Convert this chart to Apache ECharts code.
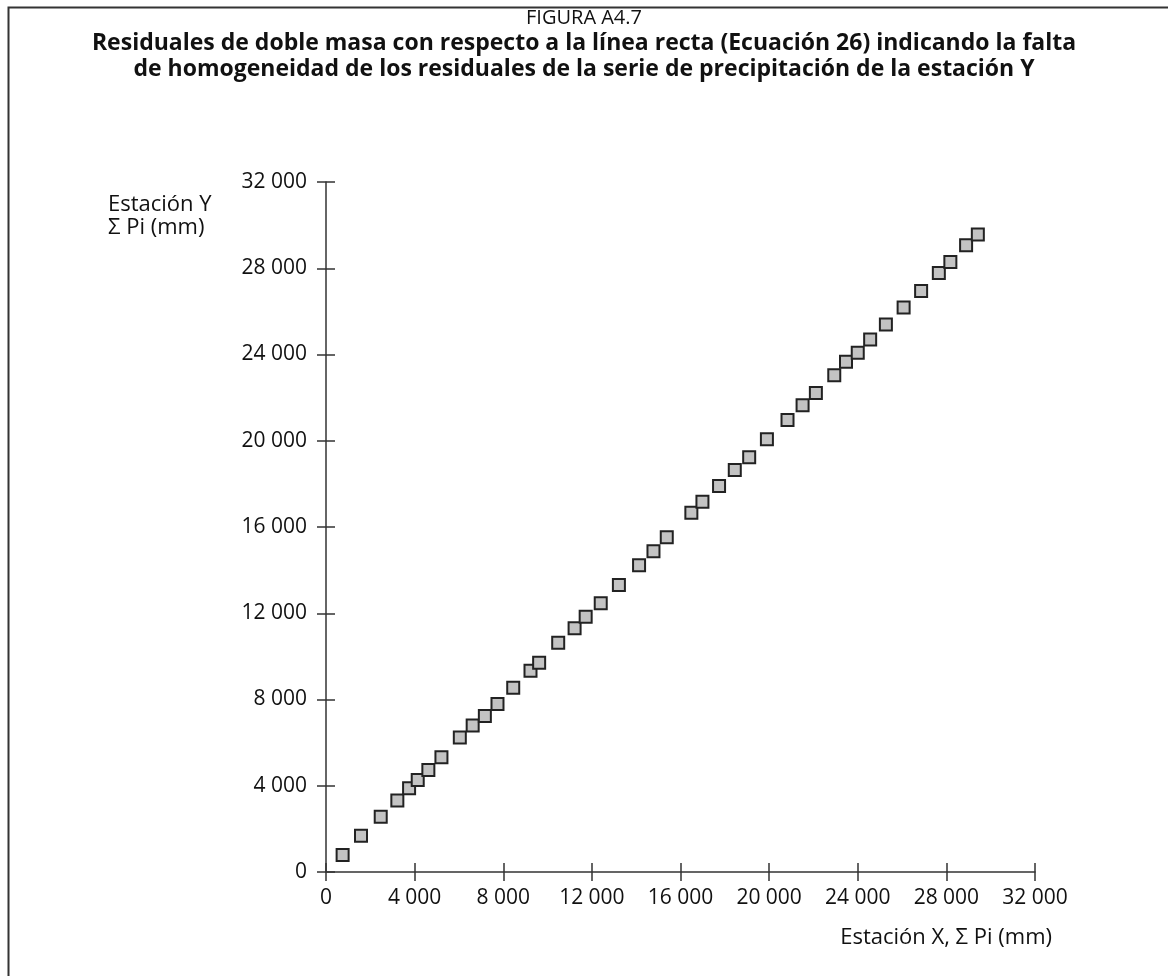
<!DOCTYPE html>
<html>
<head>
<meta charset="utf-8">
<script src="https://cdn.jsdelivr.net/npm/echarts@6/dist/echarts.min.js"></script>
<style>
html,body{margin:0;padding:0;background:#fff;}
#chart{width:1168px;height:976px;}
</style>
</head>
<body>
<div id="chart"></div>
<script>
// Data (mm)
const stationX = [750,1580,2470,3220,3750,4140,4620,5210,6040,6620,7170,7740,8450,9230,9620,10480,11220,11720,12400,13220,14130,14780,15380,16490,16990,17740,18450,19100,19900,20830,21510,22110,22940,23470,24000,24560,25270,26070,26860,27660,28180,28890,29420];
const stationY = [790,1680,2560,3320,3880,4270,4730,5320,6240,6800,7230,7790,8540,9330,9700,10630,11300,11840,12460,13310,14230,14880,15520,16660,17170,17900,18640,19230,20070,20960,21650,22220,23040,23660,24080,24700,25390,26180,26950,27780,28290,29070,29560];
const axisMin = 0, axisMax = 32000, axisStep = 4000;
const figureLabel = 'FIGURA A4.7';
const titleLines = ['Residuales de doble masa con respecto a la línea recta (Ecuación 26) indicando la falta','de homogeneidad de los residuales de la serie de precipitación de la estación Y'];
const xAxisName = 'Estación X, Σ Pi (mm)';
const yAxisName = ['Estación Y','Σ Pi (mm)'];

const FONT = 'Open Sans';
const fmt = v => String(v).replace(/\B(?=(\d{3})+(?!\d))/g, ' ');
const lineCol = '#333';
const textCol = '#111';

function mkAxis(isX, outside){
  return {
    type:'value', min:axisMin, max:axisMax, interval:axisStep,
    position: isX ? 'bottom' : 'left',
    axisLine:{show:outside, onZero:false, lineStyle:{color:lineCol, width:1.5}},
    axisTick:{show:true, inside:!outside, length:9, lineStyle:{color:lineCol, width:1.5}},
    axisLabel:{show:outside, formatter:fmt, color:textCol, fontFamily:FONT, fontSize:21, margin: isX ? 16 : 19},
    splitLine:{show:false}
  };
}

const chart = echarts.init(document.getElementById('chart'), null, {renderer:'canvas'});
chart.setOption({
  backgroundColor:'#fff',
  animation:false,
  grid:{left:326, right:133, top:182, bottom:104, containLabel:false},
  xAxis:[mkAxis(true,true), mkAxis(true,false)],
  yAxis:[mkAxis(false,true), mkAxis(false,false)],
  graphic:[
    {type:'rect', shape:{x:8.5, y:7.5, width:1300, height:1300}, style:{fill:null, stroke:lineCol, lineWidth:2}, silent:true, z:-1},
    {type:'text', x:584, y:18, style:{text:figureLabel, fontFamily:FONT, fontSize:20, fill:textCol, textAlign:'center', textVerticalAlign:'middle'}},
    {type:'text', x:584, y:43, style:{text:titleLines[0], fontFamily:FONT, fontWeight:'bold', fontSize:23, fill:textCol, textAlign:'center', textVerticalAlign:'middle'}},
    {type:'text', x:584, y:69, style:{text:titleLines[1], fontFamily:FONT, fontWeight:'bold', fontSize:23, fill:textCol, textAlign:'center', textVerticalAlign:'middle'}},
    {type:'text', x:108, y:205, style:{text:yAxisName[0], fontFamily:FONT, fontSize:22, fill:textCol, textAlign:'left', textVerticalAlign:'middle'}},
    {type:'text', x:108, y:228, style:{text:yAxisName[1], fontFamily:FONT, fontSize:22, fill:textCol, textAlign:'left', textVerticalAlign:'middle'}},
    {type:'text', x:1052, y:938, style:{text:xAxisName, fontFamily:FONT, fontSize:22, fill:textCol, textAlign:'right', textVerticalAlign:'middle'}}
  ],
  series:[{
    type:'scatter', xAxisIndex:0, yAxisIndex:0,
    symbol:'rect', symbolSize:12,
    itemStyle:{color:'#c3c3c3', borderColor:'#222', borderWidth:2, opacity:1},
    data: stationX.map((x,i)=>[x, stationY[i]])
  }]
});
</script>
</body>
</html>
